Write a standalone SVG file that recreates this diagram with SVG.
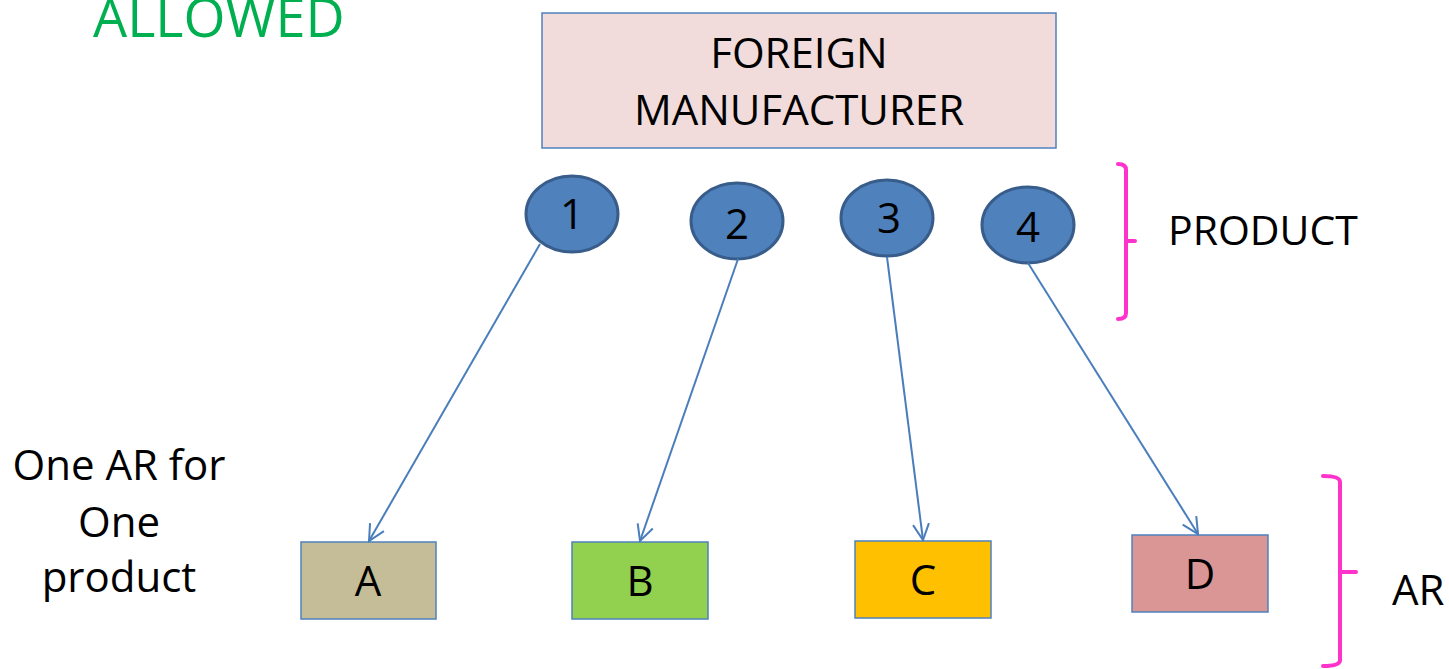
<svg xmlns="http://www.w3.org/2000/svg" width="1449" height="669" viewBox="0 0 1449 669">
<defs>
<style>
.t{font-family:"Open Sans","Liberation Sans",sans-serif;fill:#000;font-size:42px;}
.circ{fill:#4f81bd;stroke:#385d8a;stroke-width:3;}
.box{stroke:#4f81bd;stroke-width:1.5;}
.conn{stroke:#4a7ebb;stroke-width:2;fill:none;marker-end:url(#arr);}
.brace{stroke:#ff33cc;stroke-width:4;fill:none;stroke-linecap:round;stroke-linejoin:round;}
</style>
<marker id="arr" viewBox="0 0 20 20" refX="18" refY="10" markerWidth="20" markerHeight="20" markerUnits="userSpaceOnUse" orient="auto">
<path d="M2,2 L18,10 L2,18" fill="none" stroke="#4a7ebb" stroke-width="2"/>
</marker>
</defs>
<rect width="1449" height="669" fill="#fff"/>
<text class="t" x="93" y="37" style="fill:#00b050;font-size:54px">ALLOWED</text>

<g id="manufacturer">
<rect class="box" x="542" y="13" width="514" height="135" fill="#f2dcdb"/>
<text class="t" x="799" y="68" text-anchor="middle">FOREIGN</text>
<text class="t" x="799" y="125" text-anchor="middle">MANUFACTURER</text>
</g>

<g id="p1"><ellipse class="circ" cx="572" cy="214" rx="46" ry="38"/><text class="t" x="572" y="229" text-anchor="middle">1</text></g>
<g id="p2"><ellipse class="circ" cx="737" cy="221" rx="46" ry="38"/><text class="t" x="737" y="239" text-anchor="middle">2</text></g>
<g id="p3"><ellipse class="circ" cx="887" cy="218" rx="46" ry="38"/><text class="t" x="889" y="233" text-anchor="middle">3</text></g>
<g id="p4"><ellipse class="circ" cx="1028" cy="225" rx="46" ry="38"/><text class="t" x="1028" y="242" text-anchor="middle">4</text></g>

<g id="arA"><rect class="box" x="301" y="542" width="135" height="77" fill="#c4bd97"/><text class="t" x="368" y="596" text-anchor="middle">A</text></g>
<g id="arB"><rect class="box" x="572" y="542" width="136" height="77" fill="#92d050"/><text class="t" x="640" y="596" text-anchor="middle">B</text></g>
<g id="arC"><rect class="box" x="855" y="541" width="136" height="77" fill="#ffc000"/><text class="t" x="923" y="595" text-anchor="middle">C</text></g>
<g id="arD"><rect class="box" x="1132" y="535" width="136" height="77" fill="#d99694"/><text class="t" x="1200" y="589" text-anchor="middle">D</text></g>

<g id="connectors">
<line class="conn" x1="540" y1="244" x2="369" y2="541"/>
<line class="conn" x1="738" y1="259" x2="640" y2="541"/>
<line class="conn" x1="887" y1="257" x2="923" y2="540"/>
<line class="conn" x1="1028" y1="263" x2="1198" y2="534"/>
</g>

<g id="product-brace">
<path class="brace" d="M1118,164 Q1126,164 1126,170 L1126,241 L1135,241 M1126,241 L1126,313 Q1126,319 1118,319"/>
<text class="t" x="1168" y="245" style="font-size:41px">PRODUCT</text>
</g>

<g id="ar-brace">
<path class="brace" d="M1323,476 Q1340,476 1340,482 L1340,572 L1356,572 M1340,572 L1340,660 Q1340,666 1323,666"/>
<text class="t" x="1392" y="605">AR</text>
</g>

<g id="note">
<text class="t" x="119" y="480" text-anchor="middle">One AR for</text>
<text class="t" x="119" y="537" text-anchor="middle">One</text>
<text class="t" x="119" y="592" text-anchor="middle">product</text>
</g>
</svg>
